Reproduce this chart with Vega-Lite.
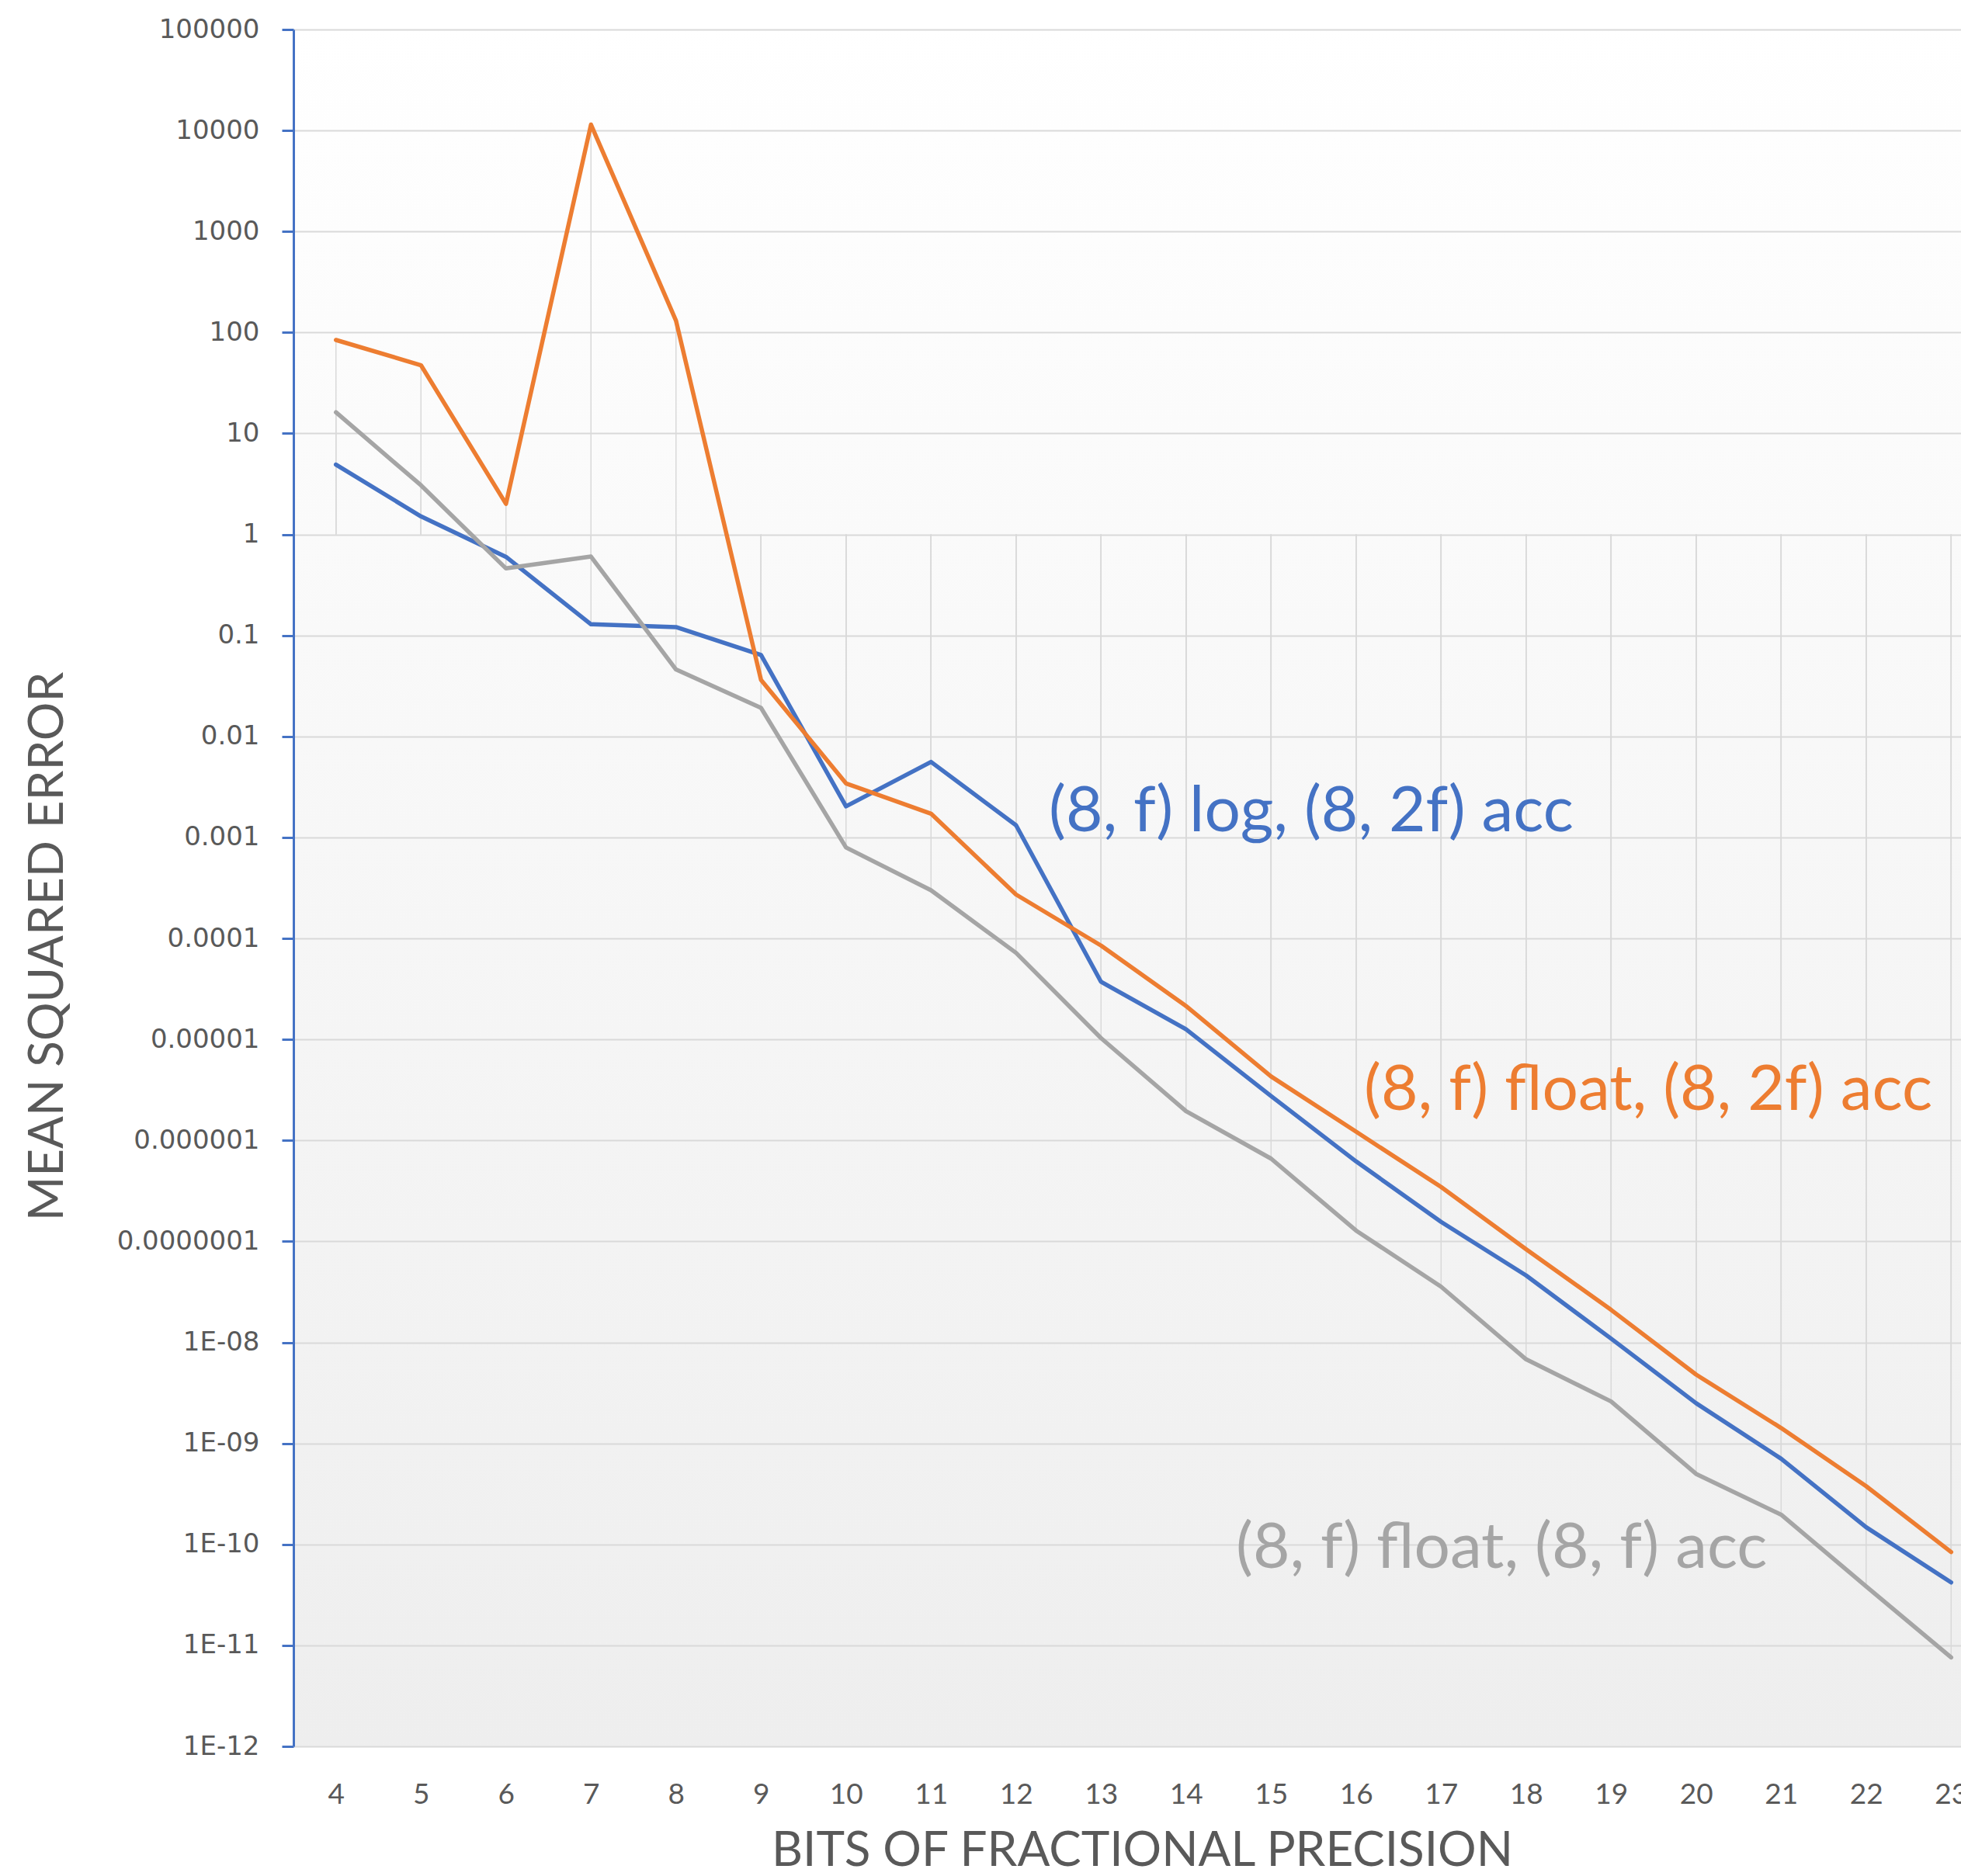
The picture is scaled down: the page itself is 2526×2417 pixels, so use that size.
{
  "$schema": "https://vega.github.io/schema/vega-lite/v6.json",
  "width": 2148,
  "height": 2212,
  "autosize": {"type": "none"},
  "padding": {"left": 378, "top": 38, "right": 0, "bottom": 167},
  "background": "#ffffff",
  "view": {
    "stroke": null,
    "fill": {
      "gradient": "linear", "x1": 0, "y1": 0, "x2": 0, "y2": 1,
      "stops": [{"offset": 0, "color": "#ffffff"}, {"offset": 1, "color": "#eeeeee"}]
    }
  },
  "datasets": {
    "mse": [
      {"bits": 4, "series": "log", "mse": 4.92},
      {"bits": 5, "series": "log", "mse": 1.51},
      {"bits": 6, "series": "log", "mse": 0.6},
      {"bits": 7, "series": "log", "mse": 0.129},
      {"bits": 8, "series": "log", "mse": 0.121},
      {"bits": 9, "series": "log", "mse": 0.064},
      {"bits": 10, "series": "log", "mse": 0.00203},
      {"bits": 11, "series": "log", "mse": 0.0056},
      {"bits": 12, "series": "log", "mse": 0.00132},
      {"bits": 13, "series": "log", "mse": 3.72e-5},
      {"bits": 14, "series": "log", "mse": 1.26e-5},
      {"bits": 15, "series": "log", "mse": 2.75e-6},
      {"bits": 16, "series": "log", "mse": 6.2e-7},
      {"bits": 17, "series": "log", "mse": 1.56e-7},
      {"bits": 18, "series": "log", "mse": 4.6e-8},
      {"bits": 19, "series": "log", "mse": 1.09e-8},
      {"bits": 20, "series": "log", "mse": 2.5e-9},
      {"bits": 21, "series": "log", "mse": 7.05e-10},
      {"bits": 22, "series": "log", "mse": 1.48e-10},
      {"bits": 23, "series": "log", "mse": 4.2e-11},
      {"bits": 4, "series": "float2f", "mse": 84.3},
      {"bits": 5, "series": "float2f", "mse": 47.4},
      {"bits": 6, "series": "float2f", "mse": 2.01},
      {"bits": 7, "series": "float2f", "mse": 11440},
      {"bits": 8, "series": "float2f", "mse": 131},
      {"bits": 9, "series": "float2f", "mse": 0.0363},
      {"bits": 10, "series": "float2f", "mse": 0.00343},
      {"bits": 11, "series": "float2f", "mse": 0.00172},
      {"bits": 12, "series": "float2f", "mse": 0.000272},
      {"bits": 13, "series": "float2f", "mse": 8.5e-5},
      {"bits": 14, "series": "float2f", "mse": 2.14e-5},
      {"bits": 15, "series": "float2f", "mse": 4.3e-6},
      {"bits": 16, "series": "float2f", "mse": 1.22e-6},
      {"bits": 17, "series": "float2f", "mse": 3.46e-7},
      {"bits": 18, "series": "float2f", "mse": 8.36e-8},
      {"bits": 19, "series": "float2f", "mse": 2.1e-8},
      {"bits": 20, "series": "float2f", "mse": 4.8e-9},
      {"bits": 21, "series": "float2f", "mse": 1.42e-9},
      {"bits": 22, "series": "float2f", "mse": 3.77e-10},
      {"bits": 23, "series": "float2f", "mse": 8.4e-11},
      {"bits": 4, "series": "floatf", "mse": 16.2},
      {"bits": 5, "series": "floatf", "mse": 3.07},
      {"bits": 6, "series": "floatf", "mse": 0.461},
      {"bits": 7, "series": "floatf", "mse": 0.604},
      {"bits": 8, "series": "floatf", "mse": 0.046},
      {"bits": 9, "series": "floatf", "mse": 0.0192},
      {"bits": 10, "series": "floatf", "mse": 0.000796},
      {"bits": 11, "series": "floatf", "mse": 0.0003},
      {"bits": 12, "series": "floatf", "mse": 7.2e-5},
      {"bits": 13, "series": "floatf", "mse": 1.03e-5},
      {"bits": 14, "series": "floatf", "mse": 1.95e-6},
      {"bits": 15, "series": "floatf", "mse": 6.6e-7},
      {"bits": 16, "series": "floatf", "mse": 1.28e-7},
      {"bits": 17, "series": "floatf", "mse": 3.56e-8},
      {"bits": 18, "series": "floatf", "mse": 6.8e-9},
      {"bits": 19, "series": "floatf", "mse": 2.6e-9},
      {"bits": 20, "series": "floatf", "mse": 4.99e-10},
      {"bits": 21, "series": "floatf", "mse": 1.97e-10},
      {"bits": 22, "series": "floatf", "mse": 3.84e-11},
      {"bits": 23, "series": "floatf", "mse": 7.6e-12}
    ]
  },
  "layer": [
    {
      "data": {"name": "mse"},
      "mark": {"type": "rule", "color": "#d9d9d9", "strokeWidth": 1.5},
      "encoding": {
        "x": {"field": "bits", "type": "quantitative"},
        "y": {"field": "mse", "type": "quantitative"},
        "y2": {"datum": 1}
      }
    },
    {
      "data": {"name": "mse"},
      "mark": {"type": "line", "strokeWidth": 5.5, "strokeJoin": "round", "strokeCap": "round"},
      "encoding": {
        "x": {
          "field": "bits", "type": "quantitative",
          "scale": {"domain": [3.5, 23.116], "nice": false, "zero": false},
          "axis": {
            "values": [4, 5, 6, 7, 8, 9, 10, 11, 12, 13, 14, 15, 16, 17, 18, 19, 20, 21, 22, 23],
            "format": "d",
            "grid": false,
            "domain": false,
            "ticks": false,
            "tickSize": 0,
            "labelFont": "Lato",
            "labelFontSize": 37,
            "labelColor": "#595959",
            "labelPadding": 44,
            "labelFlush": false,
            "labelOverlap": false,
            "title": "BITS OF FRACTIONAL PRECISION",
            "titleFont": "Lato",
            "titleFontSize": 62,
            "titleFontWeight": "normal",
            "titleColor": "#595959",
            "titleX": 1093,
            "titleY": 153,
            "titleAlign": "center",
            "titleBaseline": "alphabetic"
          }
        },
        "y": {
          "field": "mse", "type": "quantitative",
          "scale": {"type": "log", "domain": [1e-12, 100000], "nice": false},
          "axis": {
            "values": [100000, 10000, 1000, 100, 10, 1, 0.1, 0.01, 0.001, 0.0001, 0.00001, 0.000001, 0.0000001, 1e-8, 1e-9, 1e-10, 1e-11, 1e-12],
            "labelExpr": "datum.value >= 1 ? format(datum.value, 'd') : (datum.value >= 1e-7 ? format(datum.value, '.' + round(-log(datum.value)/LN10) + 'f') : '1E-' + (datum.value > 1e-10 ? '0' : '') + round(-log(datum.value)/LN10))",
            "grid": true,
            "gridColor": "#d9d9d9",
            "gridWidth": 2,
            "domain": true,
            "domainColor": "#4472c4",
            "domainWidth": 3,
            "ticks": true,
            "tickColor": "#4472c4",
            "tickSize": 15,
            "tickWidth": 3,
            "labelFont": "DejaVu Sans",
            "labelFontSize": 34,
            "labelColor": "#595959",
            "labelPadding": 29,
            "labelLimit": 0,
            "labelFlush": false,
            "labelOverlap": false,
            "title": "MEAN SQUARED ERROR",
            "titleFont": "Lato",
            "titleFontSize": 62,
            "titleFontWeight": "normal",
            "titleColor": "#595959",
            "titleAngle": -90,
            "titleX": -298,
            "titleY": 1181,
            "titleAlign": "center",
            "titleBaseline": "alphabetic"
          }
        },
        "color": {
          "field": "series", "type": "nominal",
          "scale": {"domain": ["log", "float2f", "floatf"], "range": ["#4472c4", "#ed7d31", "#a5a5a5"]},
          "legend": null
        },
        "order": {"field": "bits", "type": "quantitative"}
      }
    },
    {
      "data": {"values": [{}]},
      "mark": {"type": "text", "text": "(8, f) log, (8, 2f) acc", "font": "Lato", "fontSize": 82, "color": "#4472c4", "align": "left", "baseline": "alphabetic"},
      "encoding": {
        "x": {"datum": 12.386, "type": "quantitative"},
        "y": {"datum": 0.00116, "type": "quantitative"}
      }
    },
    {
      "data": {"values": [{}]},
      "mark": {"type": "text", "text": "(8, f) float, (8, 2f) acc", "font": "Lato", "fontSize": 82, "color": "#ed7d31", "align": "left", "baseline": "alphabetic"},
      "encoding": {
        "x": {"datum": 16.094, "type": "quantitative"},
        "y": {"datum": 2.01e-6, "type": "quantitative"}
      }
    },
    {
      "data": {"values": [{}]},
      "mark": {"type": "text", "text": "(8, f) float, (8, f) acc", "font": "Lato", "fontSize": 82, "color": "#a5a5a5", "align": "left", "baseline": "alphabetic"},
      "encoding": {
        "x": {"datum": 14.587, "type": "quantitative"},
        "y": {"datum": 5.88e-11, "type": "quantitative"}
      }
    }
  ]
}
